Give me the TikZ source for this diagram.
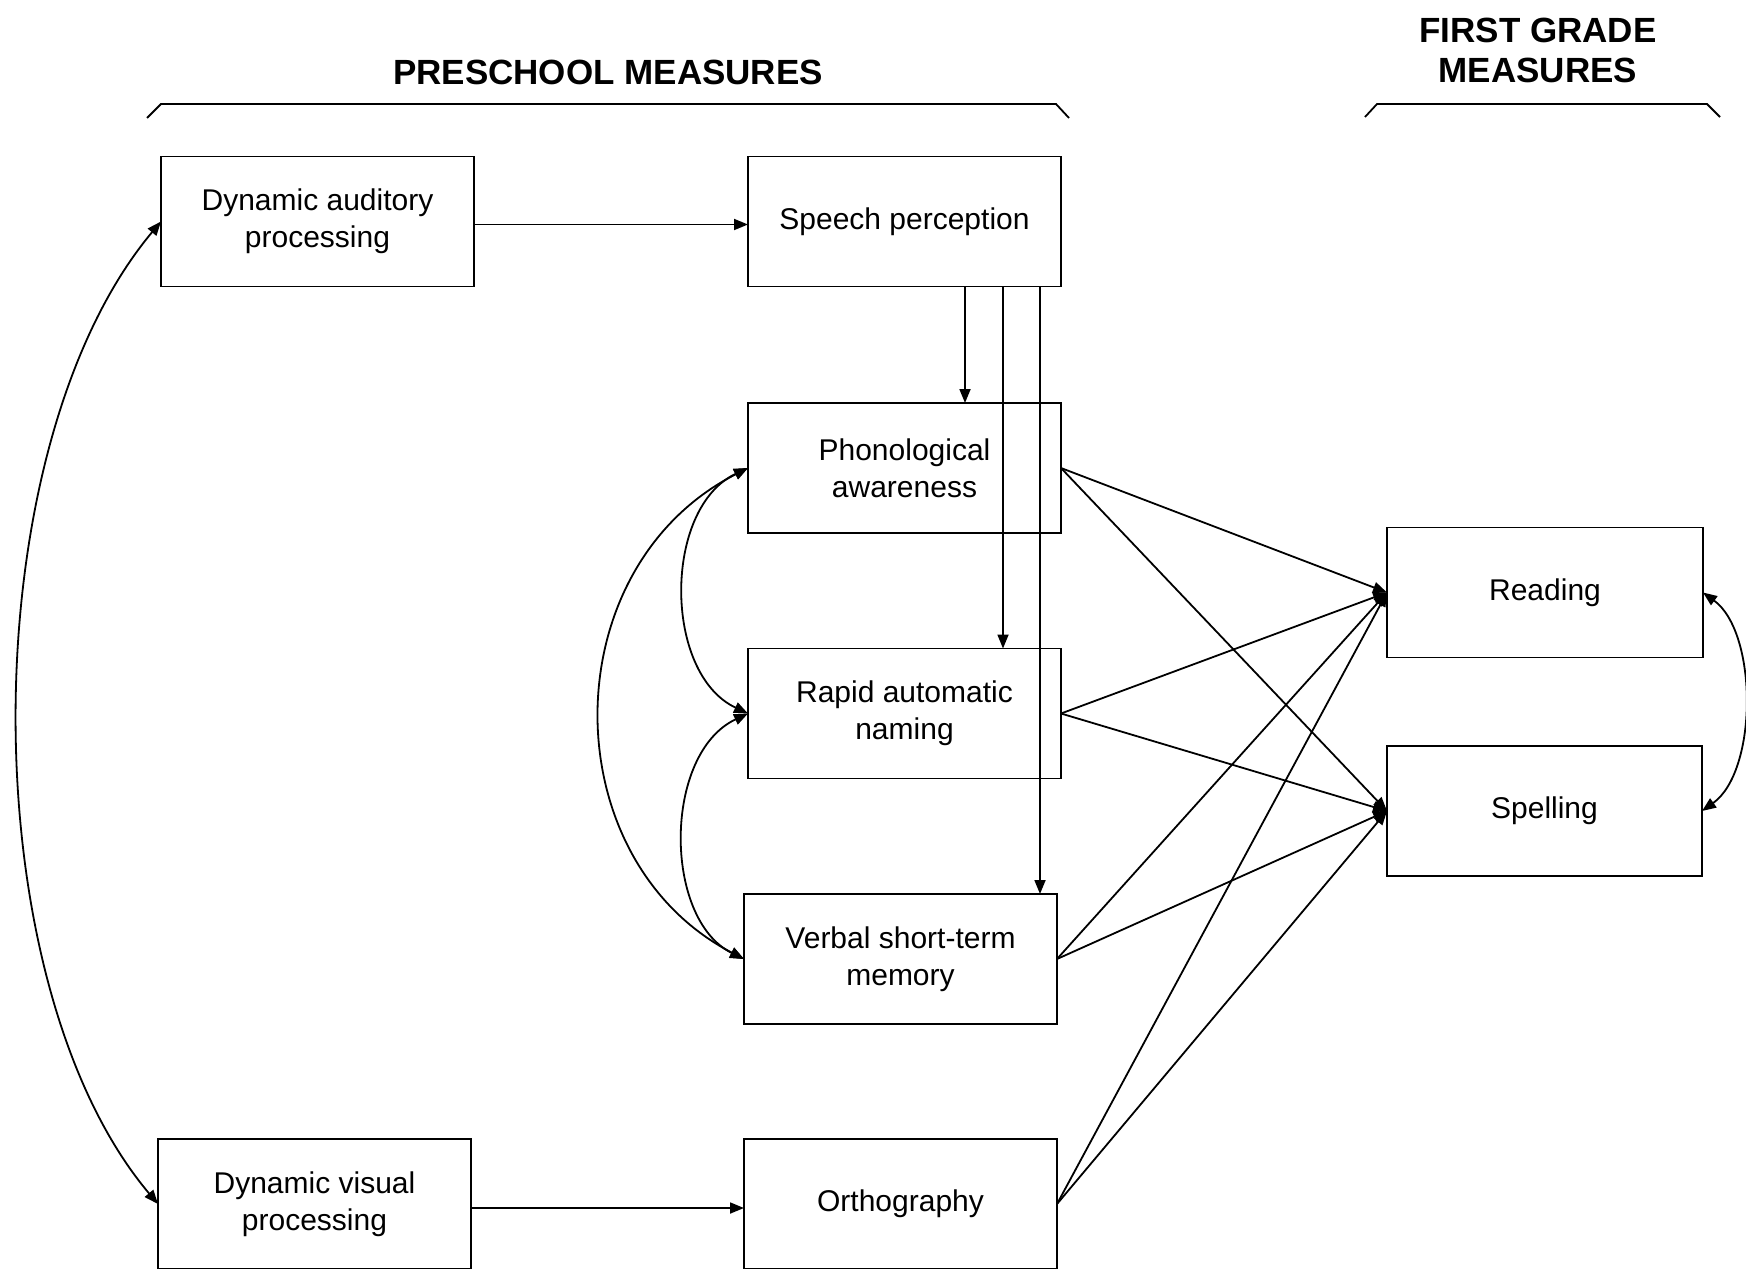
\documentclass[tikz,border=0pt]{standalone}
\usepackage{fontspec}
\setmainfont{Liberation Sans}
\usetikzlibrary{arrows.meta}
\begin{document}
\begin{tikzpicture}[x=0.5pt,y=-0.5pt,
  box/.style={draw,line width=0.9pt,minimum width=156.5pt,minimum height=65pt,inner sep=0pt,outer sep=0pt,align=center,font=\fontsize{15}{18.4}\selectfont},
  arr/.style={line width=0.9pt,-{Triangle[length=7pt,width=5.5pt]}},
  dbl/.style={line width=0.9pt,{Triangle[length=7pt,width=5.5pt]}-{Triangle[length=7pt,width=5.5pt]}},
  head/.style={font=\fontsize{17.5}{20}\selectfont\bfseries,align=center,inner sep=0pt},
  brk/.style={line width=0.9pt}]
\useasboundingbox (0,0) rectangle (1746,1269);

% headers
\node[head] (pre) at (608,72) {PRESCHOOL MEASURES};
\node[head] (first) at (1538,50) {FIRST GRADE\\MEASURES};
\draw[brk] (147,118) -- (161,104) -- (1056,104) -- (1069,118);
\draw[brk] (1365,117) -- (1377,104) -- (1707,104) -- (1720,117);

% boxes
\node[box] (dap) at (317.5,221.5) {Dynamic auditory\\processing};
\node[box] (sp) at (904.5,221.5) {Speech perception};
\node[box] (pa) at (904.5,468) {Phonological\\awareness};
\node[box] (ran) at (904.5,713.5) {Rapid automatic\\naming};
\node[box] (vstm) at (900.5,959) {Verbal short-term\\memory};
\node[box] (dvp) at (314.5,1204) {Dynamic visual\\processing};
\node[box] (orth) at (900.5,1204) {Orthography};
\node[box,minimum width=158pt] (read) at (1545,592.5) {Reading};
\node[box,minimum width=157.5pt] (spell) at (1544.5,811) {Spelling};

% horizontal arrows
\draw[arr] ([yshift=-1.5pt]dap.east) -- ([yshift=-1.5pt]sp.west);
\draw[arr] ([yshift=-2pt]dvp.east) -- ([yshift=-2pt]orth.west);

% vertical arrows from speech perception
\draw[arr] ([xshift=30.25pt]sp.south) -- ([xshift=30.25pt]sp.south |- pa.north);
\draw[arr] ([xshift=49.25pt]sp.south) -- ([xshift=49.25pt]sp.south |- ran.north);
\draw[arr] ([xshift=67.75pt]sp.south) -- ([xshift=67.75pt]sp.south |- vstm.north);

% correlations
\draw[dbl] (dap.west) .. controls +(-190,227) and +(-188,-223) .. (dvp.west);
\draw[dbl] (pa.west) .. controls +(-85,40) and +(-85,-40) .. (ran.west);
\draw[dbl] (ran.west) .. controls +(-85,40) and +(-81,-40) .. (vstm.west);
\draw[dbl] (pa.west) .. controls +(-196,100) and +(-192,-100) .. (vstm.west);
\draw[dbl] (read.east) .. controls +(55,40) and +(56,-40) .. (spell.east);

% paths to first grade
\foreach \s in {pa,ran,vstm,orth}{
  \draw[arr] (\s.east) -- (read.west);
  \draw[arr] (\s.east) -- (spell.west);
}
\end{tikzpicture}
\end{document}
